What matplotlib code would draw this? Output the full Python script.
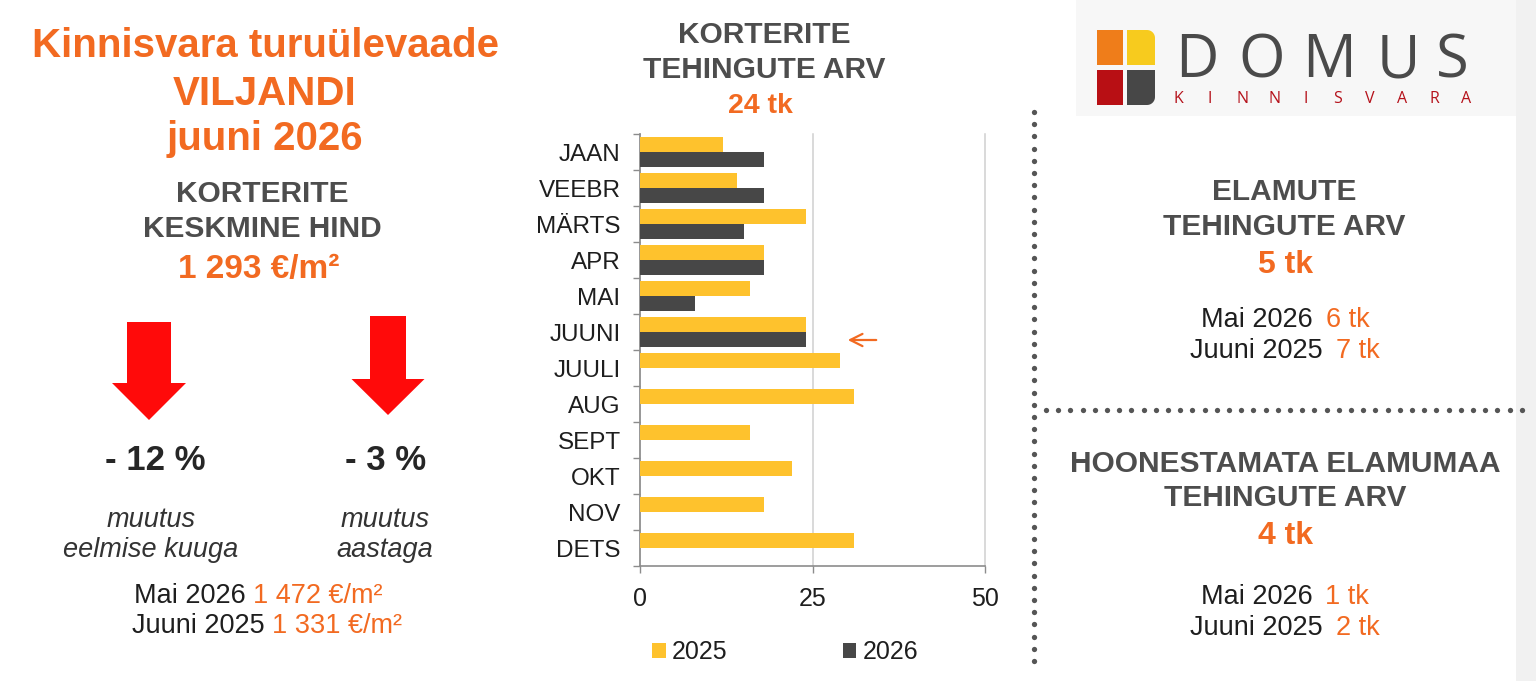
import numpy as np
import matplotlib
matplotlib.use("Agg")
import matplotlib.pyplot as plt
from matplotlib.transforms import Affine2D
from matplotlib.patches import Rectangle, Polygon
from matplotlib.lines import Line2D

# ---------------- data ----------------
months = ["JAAN", "VEEBR", "MÄRTS", "APR", "MAI", "JUUNI", "JUULI",
          "AUG", "SEPT", "OKT", "NOV", "DETS"]
deals_2025 = [12, 14, 24, 18, 16, 24, 29, 31, 16, 22, 18, 31]
deals_2026 = [18, 18, 15, 18, 8, 24]
series_labels = ["2025", "2026"]
x_ticks = [0, 25, 50]

title_lines = ["Kinnisvara turuülevaade", "VILJANDI", "juuni 2026"]
price_heading = ["KORTERITE", "KESKMINE HIND"]
price_value = "1 293 €/m²"
changes = ["- 12 %", "- 3 %"]
change_notes = ["muutus\neelmise kuuga", "muutus\naastaga"]
price_compare = [("Mai 2026", "1 472 €/m²"), ("Juuni 2025", "1 331 €/m²")]
chart_heading = ["KORTERITE", "TEHINGUTE ARV"]
chart_total = "24 tk"
houses_heading = ["ELAMUTE", "TEHINGUTE ARV"]
houses_total = "5 tk"
houses_compare = [("Mai 2026", "6 tk"), ("Juuni 2025", "7 tk")]
land_heading = ["HOONESTAMATA ELAMUMAA", "TEHINGUTE ARV"]
land_total = "4 tk"
land_compare = [("Mai 2026", "1 tk"), ("Juuni 2025", "2 tk")]

# ---------------- style ----------------
W, H = 1536, 681
ORANGE = "#F26A21"
GRAY = "#4D4D4D"
DARK = "#1E1E1E"
YELLOW = "#FEC22D"
BARGRAY = "#474747"
FONT = ["Liberation Sans", "DejaVu Sans"]
plt.rcParams["font.family"] = FONT

fig = plt.figure(figsize=(W / 100, H / 100), dpi=100)
fig.patch.set_facecolor("white")
px = Affine2D().scale(1 / W, -1 / H).translate(0, 1) + fig.transFigure
renderer = fig.canvas.get_renderer()


def T(x, y, s, size, color=DARK, weight="normal", style="normal", ha="center", va="baseline", **kw):
    return fig.text(x, y, s, transform=px, fontsize=size, color=color, weight=weight,
                    style=style, ha=ha, va=va, **kw)


def two_color(xc, y, a, b, size, gap):
    t1 = T(0, y, a, size, color=DARK, ha="left")
    t2 = T(0, y, b, size, color=ORANGE, ha="left")
    w1 = t1.get_window_extent(renderer).width
    w2 = t2.get_window_extent(renderer).width
    start = xc - (w1 + gap + w2) / 2
    t1.set_x(start)
    t2.set_x(start + w1 + gap)


# ---------------- background decorations ----------------
fig.add_artist(Rectangle((1076, 0), 440, 116, transform=px, facecolor="#F7F7F7",
                         edgecolor="none", zorder=0))
fig.add_artist(Rectangle((1516, 0), 20, H, transform=px, facecolor="#F1F1F1",
                         edgecolor="none", zorder=0))

# ---------------- left panel ----------------
for txt, yb in zip(title_lines, [57, 105, 150]):
    T(265, yb, txt, 29, color=ORANGE, weight="bold")
for txt, yb in zip(price_heading, [202, 237]):
    T(262, yb, txt, 21.5, color=GRAY, weight="bold")
T(259, 278, price_value, 24, color=ORANGE, weight="bold")


def down_arrow(cx, top, head_y, tip, shaft_w, head_w):
    pts = [(cx - shaft_w / 2, top), (cx + shaft_w / 2, top), (cx + shaft_w / 2, head_y),
           (cx + head_w / 2, head_y), (cx, tip), (cx - head_w / 2, head_y),
           (cx - shaft_w / 2, head_y)]
    fig.add_artist(Polygon(pts, closed=True, transform=px, facecolor="#FF0A0A",
                           edgecolor="none"))


down_arrow(149, 322, 383, 420, 44, 74)
down_arrow(388, 316, 379, 415, 36, 73)

for txt, xc in zip(changes, [155, 386]):
    T(xc, 470, txt, 25, color="#262626", weight="bold")
for txt, xc in zip(change_notes, [151, 385]):
    l1, l2 = txt.split("\n")
    T(xc, 527, l1, 19.5, color="#333333", style="italic")
    T(xc, 557, l2, 19.5, color="#333333", style="italic")

for (a, b), yb, xc in zip(price_compare, [603, 633], [258, 267]):
    two_color(xc, yb, a, b, 19.5, 7)

# ---------------- chart ----------------
for txt, yb in zip(chart_heading, [43, 78]):
    T(764, yb, txt, 21.5, color=GRAY, weight="bold")
T(760, 113, chart_total, 20.5, color=ORANGE, weight="bold")

ax = fig.add_axes([640 / W, 1 - 566 / H, 345 / W, 432 / H])
y = np.arange(len(months))
h = 0.43
b1 = ax.barh(y - 0.21, deals_2025, height=h, color=YELLOW, label=series_labels[0], zorder=3)
b2 = ax.barh(y[:len(deals_2026)] + 0.21, deals_2026, height=h, color=BARGRAY,
             label=series_labels[1], zorder=3)
ax.set_xlim(0, 50)
ax.set_ylim(len(months) - 0.5, -0.5)
ax.set_xticks(x_ticks)
ax.set_xticklabels([str(v) for v in x_ticks])
ax.set_yticks(y)
ax.set_yticklabels(months)
ax.set_yticks(np.arange(len(months) + 1) - 0.5, minor=True)
ax.tick_params(axis="y", which="major", length=0, pad=14, labelsize=17.5, labelcolor=DARK)
ax.tick_params(axis="y", which="minor", length=5, width=1, color="#8C8C8C")
ax.tick_params(axis="x", which="major", length=5, width=1, color="#8C8C8C", pad=10,
               labelsize=18, labelcolor=DARK)
for s in ["top", "right"]:
    ax.spines[s].set_visible(False)
for s in ["left", "bottom"]:
    ax.spines[s].set_color("#8C8C8C")
    ax.spines[s].set_linewidth(1.2)
ax.grid(axis="x", color="#CFCFCF", linewidth=1.1, zorder=0)
for gl in ax.get_xgridlines():
    gl.set_clip_on(False)
ax.set_axisbelow(True)
ax.set_facecolor("none")

fig.legend(handles=[b1, b2], labels=series_labels, loc="center",
           bbox_to_anchor=(785 / W, 1 - 652 / H), ncol=2, frameon=False, fontsize=18,
           handlelength=0.55, handleheight=0.55, handletextpad=0.25, columnspacing=4.6,
           labelcolor=DARK)

ax.annotate("", xy=(845, 340), xycoords=px, xytext=(879, 340), textcoords=px,
            arrowprops=dict(arrowstyle="->", color=ORANGE, lw=1.6, mutation_scale=22))

# ---------------- logo ----------------
def rounded_square(x0, y0, x1, y1, corner, color, r=8):
    if corner == "tr":
        cx, cy = x1 - r, y0 + r
        ang = np.linspace(np.pi / 2, 0, 12)
        arc = [(cx + r * np.cos(a), cy - r * np.sin(a)) for a in ang]
        pts = [(x0, y0)] + arc + [(x1, y1), (x0, y1)]
    else:
        cx, cy = x1 - r, y1 - r
        ang = np.linspace(0, -np.pi / 2, 12)
        arc = [(cx + r * np.cos(a), cy - r * np.sin(a)) for a in ang]
        pts = [(x0, y0), (x1, y0)] + arc + [(x0, y1)]
    fig.add_artist(Polygon(pts, closed=True, transform=px, facecolor=color,
                           edgecolor="none"))


fig.add_artist(Rectangle((1097, 30), 26, 35, transform=px, facecolor="#EF7D1A",
                         edgecolor="none"))
fig.add_artist(Rectangle((1097, 70), 26, 35, transform=px, facecolor="#B80F14",
                         edgecolor="none"))
rounded_square(1127, 30, 1155, 65, "tr", "#F7CB1E")
rounded_square(1127, 70, 1155, 105, "br", "#474747")

for ch, xc in zip("DOMUS", [1197, 1262, 1329, 1398, 1452]):
    fig.text(xc, 77, ch, transform=px, fontsize=43, color="#4A4A4A", ha="center",
             va="baseline", family=["Open Sans", "DejaVu Sans"], weight="normal")
for i, ch in enumerate("KINNISVARA"):
    fig.text(1178 + i * 32.0, 103, ch, transform=px, fontsize=11.5, color="#B5121B",
             ha="center", va="baseline", family=["Open Sans", "DejaVu Sans"])

# ---------------- right panel: dotted separators ----------------
dot_kw = dict(transform=px, color="#555555", linestyle="none", marker="o",
              markersize=3.8, markeredgewidth=0)
vy = np.arange(112, 670, 12.2)
fig.add_artist(Line2D(np.full(vy.shape, 1034.0), vy, **dot_kw))
hx = np.arange(1046, 1528, 12.2)
fig.add_artist(Line2D(hx, np.full(hx.shape, 410.0), **dot_kw))

for txt, yb in zip(houses_heading, [200, 235]):
    T(1284, yb, txt, 21.5, color=GRAY, weight="bold")
T(1285, 273, houses_total, 23, color=ORANGE, weight="bold")
for (a, b), yb in zip(houses_compare, [327, 358]):
    two_color(1285, yb, a, b, 19.5, 13)

for txt, yb in zip(land_heading, [472, 506]):
    T(1285, yb, txt, 21.5, color=GRAY, weight="bold")
T(1285, 544, land_total, 23, color=ORANGE, weight="bold")
for (a, b), yb in zip(land_compare, [604, 635]):
    two_color(1285, yb, a, b, 19.5, 13)

fig.savefig("out.png", dpi=100)
